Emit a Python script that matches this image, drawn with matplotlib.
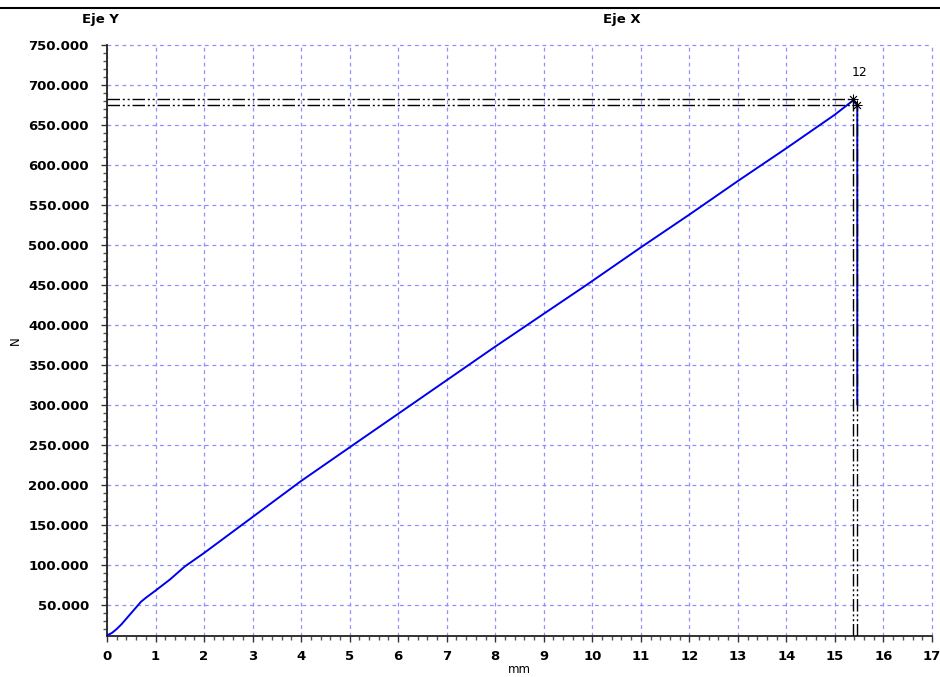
import numpy as np
import matplotlib
matplotlib.use("Agg")
import matplotlib.pyplot as plt
from matplotlib.lines import Line2D

# curve (mm, N)
disp_mm = [0, 0.1, 0.2, 0.3, 0.4, 0.5, 0.6, 0.7, 0.8, 1.0, 1.3, 1.6, 2.0,
           3.0, 4.0, 5.07, 6, 7, 8, 9, 9.88, 11, 12, 13, 14, 15, 15.38,
           15.44, 15.46, 15.46]
force_n = [12, 15, 20, 26, 33, 40, 47, 54, 59, 68, 82, 98, 115,
           160, 205, 250, 289, 331, 373, 414, 450, 497, 538, 580, 621, 663, 681,
           676, 676, 301]

# cursor points
cursor_x = [15.37, 15.46]
cursor_y = [683, 675]
cursor_label = "12"

x_ticks = list(range(0, 18))
y_ticks = list(range(50, 751, 50))

fig = plt.figure(figsize=(9.4, 6.77), dpi=100)
ax = fig.add_axes([107 / 940, 41 / 677, 825 / 940, 591 / 677])

grid_color = "#8f8fff"
ax.set_xlim(0, 17)
ax.set_ylim(11.25, 750)
ax.set_xticks(x_ticks)
ax.set_yticks(y_ticks)
ax.set_xticks(np.arange(0, 17.01, 0.2), minor=True)
ax.set_yticks(np.arange(20, 751, 10), minor=True)
ax.set_xticklabels([str(v) for v in x_ticks], fontweight="bold", fontsize=9.5)
ax.set_yticklabels([f"{v:.3f}" for v in y_ticks], fontweight="bold", fontsize=9.5)
ax.tick_params(axis="x", which="major", length=4, width=1, color="#333333", pad=6)
ax.tick_params(axis="y", which="major", length=4, width=1, color="#333333", pad=9)
ax.tick_params(axis="both", which="minor", length=3, width=1, color="#555555")

ax.grid(True, which="major", color=grid_color, linestyle=(0, (3, 3)), linewidth=0.9)
for gl in ax.xaxis.get_gridlines() + ax.yaxis.get_gridlines():
    gl.set_clip_on(False)

for side in ["top", "right"]:
    ax.spines[side].set_visible(False)
for side in ["left", "bottom"]:
    ax.spines[side].set_linewidth(1.3)
    ax.spines[side].set_color("#222222")

ax.plot(disp_mm, force_n, color="#0000ee", linewidth=1.4, zorder=3)

dd = (0, (9, 2, 1.5, 2, 1.5, 2))
for cy, cx in zip(cursor_y, cursor_x):
    ax.plot([0, cx], [cy, cy], color="black", linestyle=dd, linewidth=1, zorder=4)
    ax.plot([cx, cx], [11.25, cy], color="black", linestyle=dd, linewidth=1, zorder=4)
ax.plot(cursor_x, cursor_y, linestyle="none", marker=(8, 2, 0), markersize=7,
        color="black", markeredgewidth=0.6, zorder=5)
ax.text(15.5, 716, cursor_label, ha="center", va="center", fontsize=9)

ax.set_xlabel("mm", fontsize=8.5, labelpad=0)
ax.set_ylabel("N", fontsize=8.5, labelpad=0)
ax.yaxis.set_label_coords(-85 / 825, 0.5)

fig.text(100 / 940, 1 - 20 / 677, "Eje Y", ha="center", va="center",
         fontsize=9.5, fontweight="bold")
fig.text(622 / 940, 1 - 20 / 677, "Eje X", ha="center", va="center",
         fontsize=9.5, fontweight="bold")
fig.add_artist(Line2D([0, 1], [1 - 8 / 677, 1 - 8 / 677], color="black", linewidth=1.5))

fig.savefig("out.png", dpi=100)
